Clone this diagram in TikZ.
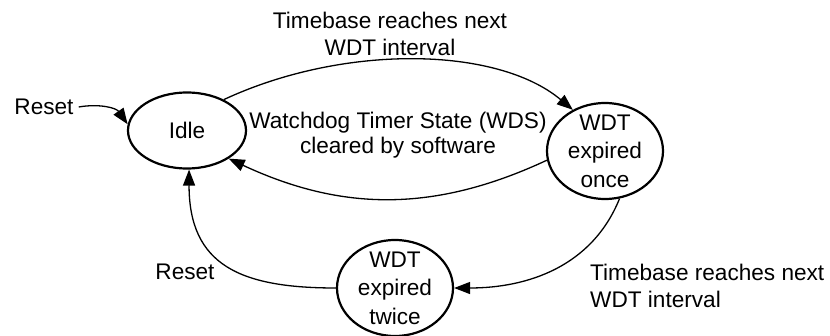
\documentclass[tikz,border=0pt]{standalone}
\usepackage{fontspec}
\setmainfont{Liberation Sans}
\usetikzlibrary{arrows.meta,shapes.geometric}
\begin{document}
\begin{tikzpicture}[x=1pt,y=1pt,
  font=\fontsize{22.6pt}{27pt}\selectfont,
  state/.style={ellipse, draw, line width=2.2pt, inner sep=0pt},
  lbl/.style={inner sep=2pt, align=center},
  statetext/.style={inner sep=0pt, align=center, font=\fontsize{22.6pt}{28.5pt}\selectfont},
  edge/.style={line width=1.3pt, -{Triangle[length=16pt,width=12pt]}}]
\useasboundingbox (0,0) rectangle (830,335);

% states
\node[state, minimum width=118pt, minimum height=76pt] (idle) at (187,204.5) {Idle};
\node[state, minimum width=116pt, minimum height=96pt,
  label={[name=oncetext, statetext]center:WDT\\expired\\once}] (once) at (605,184) {};
\node[state, minimum width=116pt, minimum height=96pt,
  label={[name=twicetext, statetext]center:WDT\\expired\\twice}] (twice) at (395,47) {};

% transition labels
\node[lbl] (reset1) at (44,228) {Reset};
\node[lbl] (toplbl) at (390,301.5) {Timebase reaches next\\WDT interval};
\node[lbl, font=\fontsize{22.6pt}{24.5pt}\selectfont] (wdslbl) at (398,200)
  {Watchdog Timer State (WDS)\\cleared by software};
\node[lbl, align=left, anchor=west] (botlbl) at (588,49) {Timebase reaches next\\WDT interval};
\node[lbl] (reset2) at (185,63) {Reset};

% transitions
\draw[edge] ([xshift=3pt]reset1.east) to[out=10,in=125] (idle.174);
\draw[edge] (idle.40) .. controls +(25:132pt) and +(140:99pt) .. (once.128);
\draw[edge] (once.189) to[out=205,in=-25] (idle.-34);
\draw[edge] (once.-73) to[out=-112,in=0] (twice.0);
\draw[edge] (twice.180) to[out=180,in=-90,looseness=1.3] (idle.-87);
\end{tikzpicture}
\end{document}
